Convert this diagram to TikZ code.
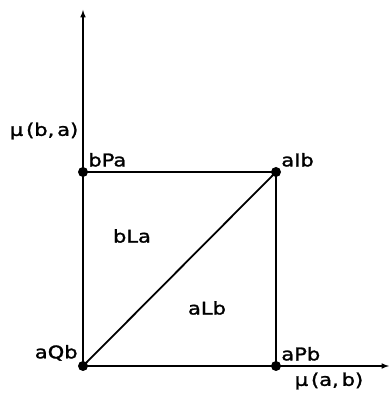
\documentclass[tikz,border=0pt]{standalone}
\usepackage{fontspec}
\setsansfont[FakeStretch=1.2, FakeBold=1.5]{DejaVu Sans}
\begin{document}
\begin{tikzpicture}[x=1pt, y=1pt,
    point/.style={circle, fill=black, inner sep=0pt, minimum size=10pt},
    axis/.style={->, >=latex, line width=1.5pt},
    edge/.style={line width=1.8pt},
    label text/.style={font=\sffamily\fontsize{17.5}{20}\selectfont, inner sep=1.5pt}
]
\useasboundingbox (0,0) rectangle (388,396);

% Corner points
\node[point] (Q) at (83, 30) {};
\node[point] (P) at (276, 30) {};
\node[point] (B) at (83, 224) {};
\node[point] (I) at (276, 224) {};

% Axis ends
\coordinate (xend) at (389, 30);
\coordinate (yend) at (83, 386);

% Axes
\draw[axis] (Q.center) -- (xend);
\draw[axis] (Q.center) -- (yend);

% Square and diagonal
\draw[edge] (B.center) -- (I.center) -- (P.center);
\draw[edge] (Q.center) -- (I.center);

% Labels
\node[label text, anchor=south west] at (B.north east) {bPa};
\node[label text, anchor=south west] at (I.north east) {aIb};
\node[label text, anchor=south west] at (P.north east) {aPb};
\node[label text, anchor=south east] at (Q.north west) {aQb};
\node[label text] (bLa) at (132, 160) {bLa};
\node[label text] (aLb) at (207, 88) {aLb};
\node[label text, anchor=east] (muba) at (80, 265) {μ\,(b,\,a)};
\node[label text] (muab) at (329, 15) {μ\,(a,\,b)};

\end{tikzpicture}
\end{document}
